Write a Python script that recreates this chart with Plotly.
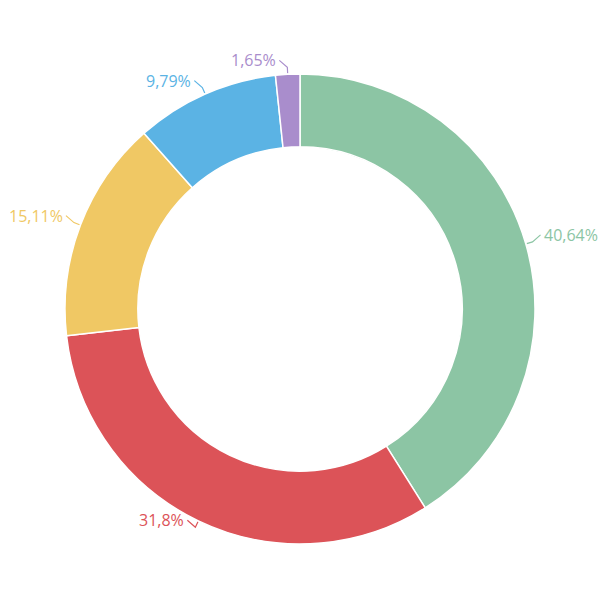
import math
import plotly.graph_objects as go

labels = ["A", "B", "C", "D", "E"]
values = [40.64, 31.8, 15.11, 9.79, 1.65]
text_labels = ["40,64%", "31,8%", "15,11%", "9,79%", "1,65%"]
colors = ["#8cc5a4", "#dc5358", "#f0c864", "#5bb3e4", "#a98dcc"]

W = H = 600
cx, cy, R = 300.0, 309.0, 235.0

fig = go.Figure()
fig.add_trace(go.Pie(
    labels=labels, values=values, hole=0.69, sort=False, direction="clockwise",
    rotation=0, textinfo="none", hoverinfo="skip", showlegend=False,
    marker=dict(colors=colors, line=dict(color="white", width=1.5)),
    domain=dict(x=[(cx - R) / W, (cx + R) / W], y=[1 - (cy + R) / H, 1 - (cy - R) / H]),
))

total = sum(values)
cum = 0.0
annotations = []
for v, t, c in zip(values, text_labels, colors):
    mid = (cum + v / 2) / total * 2 * math.pi
    cum += v
    s, co = math.sin(mid), math.cos(mid)
    x0, y0 = cx + (R + 1) * s, cy - (R + 1) * co
    x1, y1 = cx + (R + 7) * s, cy - (R + 7) * co
    side = 1 if s >= 0 else -1
    x2, y2 = x1 + side * 8, y1 - 7
    fig.add_trace(go.Scatter(x=[x0, x1, x2], y=[y0, y1, y2], mode="lines",
                             line=dict(color=c, width=1.2), hoverinfo="skip",
                             showlegend=False))
    annotations.append(dict(x=x2 + side * 1, y=y2, xref="x", yref="y", text=t,
                            showarrow=False, xanchor="left" if side > 0 else "right",
                            yanchor="middle",
                            font=dict(family="Open Sans", size=16, color=c)))

fig.update_layout(
    width=W, height=H, margin=dict(l=0, r=0, t=0, b=0),
    paper_bgcolor="white", plot_bgcolor="rgba(0,0,0,0)",
    xaxis=dict(range=[0, W], visible=False, fixedrange=True, domain=[0, 1]),
    yaxis=dict(range=[H, 0], visible=False, fixedrange=True, domain=[0, 1]),
    annotations=annotations,
)
fig.write_html("out.html", config={"displayModeBar": False, "staticPlot": True},
               post_script="document.body.style.margin='0';document.body.style.overflow='hidden';")
